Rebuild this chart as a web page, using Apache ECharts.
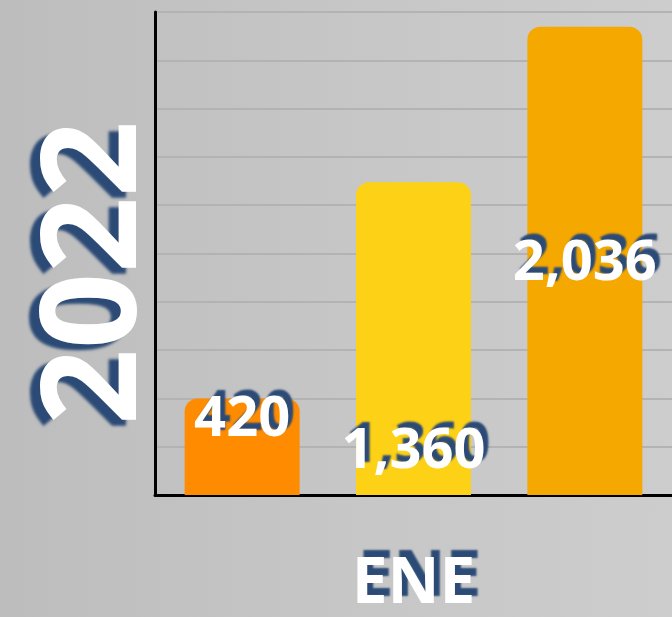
<!DOCTYPE html>
<html>
<head>
<meta charset="utf-8">
<style>
  html, body { margin: 0; padding: 0; }
  #chart {
    width: 672px; height: 617px;
    background: linear-gradient(90deg, #bdbdbd 0%, #c6c6c6 50%, #cdcdcd 100%);
  }
</style>
<script src="https://cdn.jsdelivr.net/npm/echarts@6/dist/echarts.min.js"></script>
</head>
<body>
<div id="chart"></div>
<script>
// Monthly figures for the year
const yearTitle = '2022';
const months = ['ENE'];
const seriesNames = ['A', 'B', 'C'];
const seriesValues = [[420], [1360], [2036]];
const seriesColors = ['#FF8C00', '#FDD115', '#F5A800'];
const axisMax = 2100;
const axisInterval = 210;

const shadowText = {
  color: '#ffffff',
  fontFamily: 'Open Sans',
  fontWeight: 'bold',
  textShadowColor: '#2B4A75',
  textShadowBlur: 2,
  textShadowOffsetX: 5,
  textShadowOffsetY: -6
};

// label placement inside each bar
const labelPlacement = [
  { position: 'inside', offset: [0, -27] },
  { position: 'insideBottom', distance: 15 },
  { position: 'inside', offset: [0, 3] }
];

const chart = echarts.init(document.getElementById('chart'), null, { renderer: 'canvas' });

chart.setOption({
  backgroundColor: 'transparent',
  animation: false,
  grid: { left: 155, right: 0, top: 12, bottom: 120, containLabel: false },
  xAxis: {
    type: 'category',
    data: months,
    axisLine: { show: true, lineStyle: { color: '#000000', width: 3 } },
    axisTick: { show: false },
    axisLabel: Object.assign({}, shadowText, {
      fontSize: 64,
      margin: 58,
      textShadowOffsetX: 6,
      textShadowOffsetY: -7
    }),
    splitLine: { show: false }
  },
  yAxis: {
    type: 'value',
    min: 0,
    max: axisMax,
    interval: axisInterval,
    axisLine: { show: true, lineStyle: { color: '#000000', width: 3 } },
    axisTick: { show: false },
    axisLabel: { show: false },
    splitLine: { show: true, lineStyle: { color: '#b3b3b3', width: 2 } }
  },
  series: seriesNames.map((name, i) => ({
    name: name,
    type: 'bar',
    data: seriesValues[i],
    barWidth: 115,
    barGap: '49%',
    itemStyle: { color: seriesColors[i], borderRadius: [13, 13, 0, 0] },
    label: Object.assign({
      show: true,
      fontSize: 56,
      formatter: p => p.value.toLocaleString('en-US')
    }, shadowText, labelPlacement[i])
  })),
  // vertical year title beside the value axis
  graphic: [{
    type: 'text',
    x: 98,
    y: 273,
    rotation: Math.PI / 2,
    style: {
      text: yearTitle,
      font: 'bold 133px "Open Sans"',
      fill: '#ffffff',
      align: 'center',
      verticalAlign: 'middle',
      textShadowColor: '#2B4A75',
      textShadowBlur: 3,
      textShadowOffsetX: -10,
      textShadowOffsetY: 6,
      shadowColor: '#2B4A75',
      shadowBlur: 3,
      shadowOffsetX: -10,
      shadowOffsetY: 6
    }
  }]
});
</script>
</body>
</html>
